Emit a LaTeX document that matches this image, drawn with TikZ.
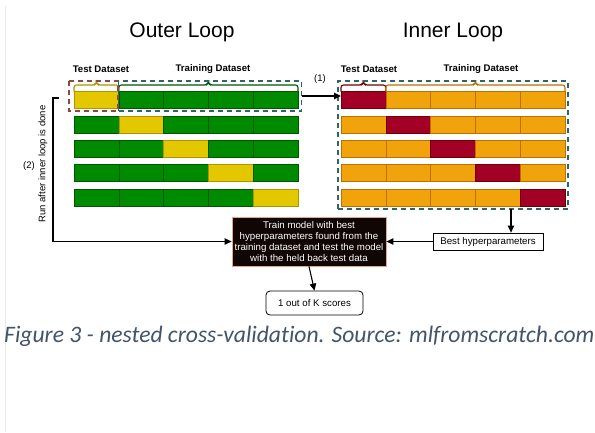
\documentclass[tikz,border=0pt]{standalone}
\usepackage{fontspec}
\setmainfont{Liberation Sans}
\newfontfamily\capfont[Ligatures={NoCommon}]{Carlito}
\usetikzlibrary{arrows.meta,calc}
\definecolor{cgreen}{HTML}{008A00}
\definecolor{cgreenD}{HTML}{005700}
\definecolor{cyellow}{HTML}{E3C800}
\definecolor{cyellowD}{HTML}{B09500}
\definecolor{corange}{HTML}{F0A30A}
\definecolor{corangeD}{HTML}{BD7000}
\definecolor{cred}{HTML}{A20025}
\definecolor{credD}{HTML}{6F0000}
\definecolor{cteal}{HTML}{2E6565}
\definecolor{cbrown}{HTML}{8A4A44}
\definecolor{cpeach}{HTML}{E8A58A}
\definecolor{capcol}{HTML}{44546A}
\definecolor{boxblack}{HTML}{100604}
\newcommand\mybrace[3]{%
  \draw[#3, line width=1.1pt, rounded corners=2.5pt]
    (#1,91.5) -- (#1,85) -- ({(#1+#2)/2-1.6},85) -- ({(#1+#2)/2},82) -- ({(#1+#2)/2+1.6},85) -- (#2,85) -- (#2,91.5);}
\begin{document}
\begin{tikzpicture}[x=1pt,y=-1pt,
  cell/.style={anchor=north west, minimum width=44.8pt, minimum height=17pt, inner sep=0pt, outer sep=0pt, line width=0.6pt},
  dashbox/.style={line width=1.6pt, dash pattern=on 5pt off 4pt, inner sep=0pt, outer sep=0pt},
  title/.style={font=\fontsize{21}{25}\selectfont},
  sub/.style={font=\bfseries\fontsize{9.6}{11}\selectfont},
  lbl/.style={font=\fontsize{9.5}{11}\selectfont},
  conn/.style={line width=1.1pt, -{Triangle[length=7pt,width=6.5pt]}},
  plainbox/.style={draw=black, line width=0.8pt, fill=white, font=\fontsize{9.7}{11}\selectfont, inner sep=0pt}
]
\useasboundingbox (0,0) rectangle (595,432);
\fill[white] (0,0) rectangle (595,432);
\draw[black!8, line width=0.8pt] (5,6) -- (5,432);

% titles
\node[title] (tout) at (182,32) {Outer Loop};
\node[title] (tin) at (453,32) {Inner Loop};
\node[sub] (otest) at (101,69) {Test Dataset};
\node[sub] (otrain) at (213,69) {Training Dataset};
\node[sub] (itest) at (369,69) {Test Dataset};
\node[sub] (itrain) at (481,69) {Training Dataset};

% outer cells
\foreach \r in {0,...,4}{
  \foreach \c in {0,...,4}{
    \pgfmathsetmacro{\xx}{74+44.8*\c}
    \pgfmathsetmacro{\yy}{91.5+24.4*\r}
    \ifnum\r=\c
      \node[cell, fill=cyellow, draw=cyellowD] (o\r\c) at (\xx,\yy) {};
    \else
      \node[cell, fill=cgreen, draw=cgreenD] (o\r\c) at (\xx,\yy) {};
    \fi
  }
}
% inner cells
\foreach \r in {0,...,4}{
  \foreach \c in {0,...,4}{
    \pgfmathsetmacro{\xx}{341+44.8*\c}
    \pgfmathsetmacro{\yy}{91.5+24.4*\r}
    \ifnum\r=\c
      \node[cell, fill=cred, draw=credD] (i\r\c) at (\xx,\yy) {};
    \else
      \node[cell, fill=corange, draw=corangeD] (i\r\c) at (\xx,\yy) {};
    \fi
  }
}

% braces
\mybrace{74}{118.8}{cyellowD}
\mybrace{118.8}{298}{cgreenD}
\mybrace{341}{385.8}{credD}
\mybrace{385.8}{565}{corangeD}

% dashed boxes
\draw[dashbox, cbrown] (69,81) rectangle (118,111);
\node[dashbox, draw=cteal, anchor=north west, minimum width=183pt, minimum height=30pt] (obox) at (118.5,81) {};
\node[dashbox, draw=cteal, anchor=north west, minimum width=230pt, minimum height=128pt] (ibox) at (338,81) {};

% arrow (1)
\draw[conn] (obox.east) -- (obox.east -| i00.west);
\node[lbl] (l1) at (320,79) {(1)};

% boxes
\node[draw=cpeach, line width=0.8pt, fill=boxblack, text=white, align=center,
  font=\fontsize{9.7}{11}\selectfont, minimum width=154pt, minimum height=49pt, inner sep=0pt] (train) at (309,241.5)
  {Train model with best\\hyperparameters found from the\\training dataset and test the model\\with the held back test data};
\node[plainbox, rounded corners=4pt, minimum width=97pt, minimum height=24pt] (score) at (314.5,303) {1 out of K scores};
\node[plainbox, minimum width=110pt, minimum height=17pt] (best) at (488,241.5) {Best hyperparameters};

% connectors
\coordinate (bx) at (511,0);
\draw[conn] (ibox.south -| bx) -- (best.north -| bx);
\draw[conn] (best.west) -- (train.east);
\draw[conn] (train.south) -- (score.north);
\coordinate (lbtop) at (53,98);
\coordinate (lbtick) at (58.5,98);
\draw[conn] (lbtick) -- (lbtop) -- (lbtop |- train.west) -- (train.west);

% rotated labels
\node[lbl, rotate=90] (run) at (43,164) {Run after inner loop is done};
\node[lbl] (l2) at (29,166) {(2)};

% caption
\node[anchor=west, inner sep=0pt, text=capcol, font=\capfont\itshape\fontsize{23.6}{28}\selectfont] (cap) at (4,336)
  {Figure 3 - nested cross-validation. Source: mlfromscratch.com};
\end{tikzpicture}
\end{document}
